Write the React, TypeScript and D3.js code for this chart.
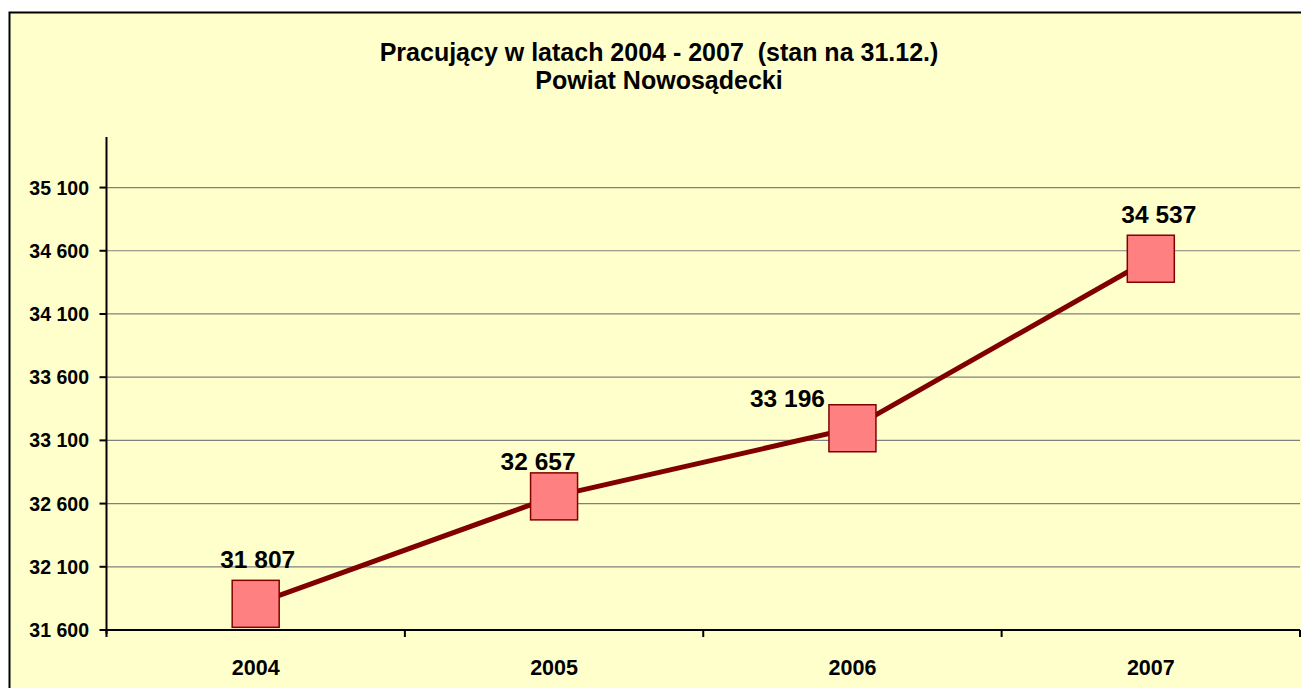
import React from 'react';
import * as d3 from 'd3';

const years = ['2004', '2005', '2006', '2007'];
const employed = [31807, 32657, 33196, 34537];
const yTicks = [31600, 32100, 32600, 33100, 33600, 34100, 34600, 35100];
const titleLines = ['Pracujący w latach 2004 - 2007  (stan na 31.12.)', 'Powiat Nowosądecki'];

const W = 1301;
const H = 688;
const FONT = 'Arial, "Liberation Sans", sans-serif';

// manual label placement, as in the original sheet (dx from marker centre, dy from marker top)
const labelNudge = [
    { dx: 2, dy: -12 },
    { dx: -16, dy: -3 },
    { dx: -65, dy: 2 },
    { dx: 8, dy: -12 },
];

const fmt = (v: number) => d3.format(',')(v).replace(/,/g, ' ');

export default function App() {
    const left = 106.5;
    const right = 1300;
    const top = 137;
    const bottom = 630;

    const x = d3.scaleBand<string>().domain(years).range([left, right]);
    const y = d3.scaleLinear().domain([31600, 35500]).range([bottom, top]);

    const pts = years.map((yr, i) => ({
        x: x(yr)! + x.bandwidth() / 2,
        y: y(employed[i]),
        v: employed[i],
    }));

    const line = d3.line<{ x: number; y: number }>()
        .x(d => d.x)
        .y(d => d.y);

    const mSize = 47;
    const boundaries = years.map(yr => x(yr)!).concat([right]);

    return (
        <svg width={W} height={H} style={{ position: 'absolute', left: 0, top: 0 }} fontFamily={FONT}>
            <rect x={0} y={0} width={W} height={H} fill="#ffffff" />
            <rect x={9.5} y={12.5} width={W + 20} height={H + 20} fill="#FFFFCC" stroke="#000" strokeWidth={2} />

            {/* Title */}
            {titleLines.map((t, i) => (
                <text key={i} x={659} y={61 + i * 28} textAnchor="middle" fontSize={25} fontWeight="bold" fill="#000"
                    style={{ whiteSpace: 'pre' }}>
                    {t}
                </text>
            ))}

            {/* Gridlines */}
            {yTicks.filter(t => t !== 31600).map(t => (
                <line key={t} x1={left} x2={right} y1={y(t)} y2={y(t)} stroke="#808080" strokeWidth={1.2} />
            ))}

            {/* Y axis */}
            <line x1={left} x2={left} y1={top} y2={bottom + 4} stroke="#000" strokeWidth={2} />
            {yTicks.map(t => (
                <g key={t}>
                    <line x1={left - 7} x2={left} y1={y(t)} y2={y(t)} stroke="#000" strokeWidth={2} />
                    <text x={89} y={y(t)} dy="0.36em" textAnchor="end" fontSize={19.5} fontWeight="bold" fill="#000">
                        {fmt(t)}
                    </text>
                </g>
            ))}

            {/* X axis */}
            <line x1={left} x2={right} y1={bottom} y2={bottom} stroke="#000" strokeWidth={2} />
            {boundaries.map((b, i) => (
                <line key={i} x1={b} x2={b} y1={bottom} y2={bottom + 7} stroke="#000" strokeWidth={2} />
            ))}
            {years.map(yr => (
                <text key={yr} x={x(yr)! + x.bandwidth() / 2} y={675} textAnchor="middle" fontSize={21.5} fontWeight="bold" fill="#000">
                    {yr}
                </text>
            ))}

            {/* Series */}
            <path d={line(pts) || ''} fill="none" stroke="#800000" strokeWidth={5} />
            {pts.map((p, i) => (
                <rect key={i} x={p.x - mSize / 2} y={p.y - mSize / 2} width={mSize} height={mSize}
                    fill="#FF8080" stroke="#800000" strokeWidth={1.5} />
            ))}
            {pts.map((p, i) => (
                <text key={i} x={p.x + labelNudge[i].dx} y={p.y - mSize / 2 + labelNudge[i].dy}
                    textAnchor="middle" fontSize={24.5} fontWeight="bold" fill="#000">
                    {fmt(p.v)}
                </text>
            ))}
        </svg>
    );
}
